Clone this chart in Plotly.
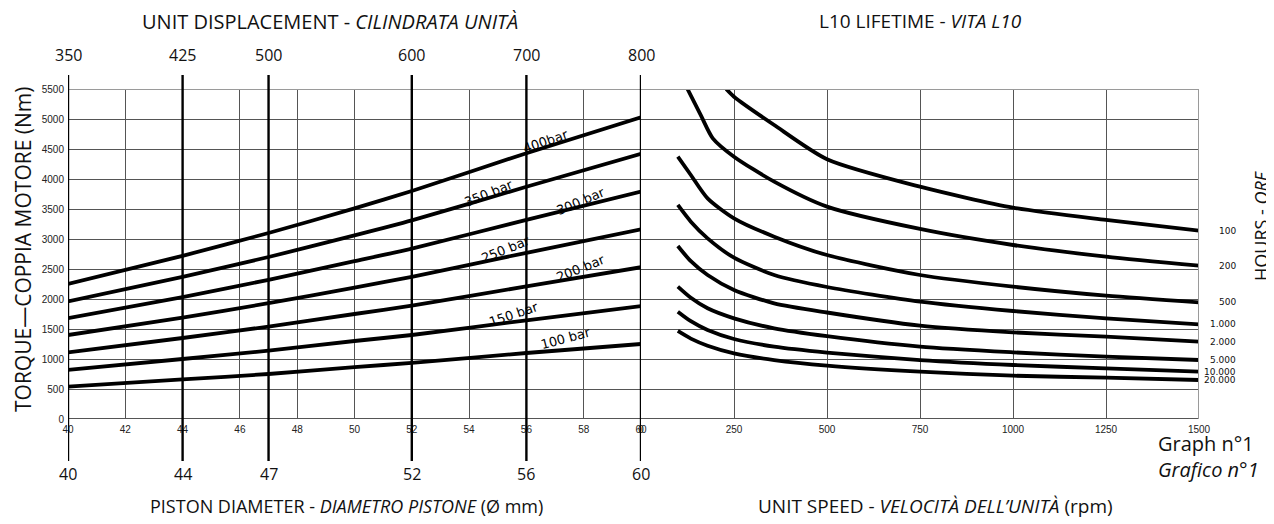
import plotly.graph_objects as go

# ---------------- DATA ----------------
# Left panel: torque (Nm) vs piston diameter (mm) for pressures
diameter = [40, 44, 47, 50, 52, 56, 60]
t_400 = [2250, 2720, 3100, 3510, 3800, 4430, 5030]
t_350 = [1960, 2370, 2700, 3060, 3310, 3870, 4420]
t_300 = [1680, 2030, 2320, 2630, 2840, 3320, 3790]
t_250 = [1400, 1690, 1930, 2190, 2370, 2770, 3160]
t_200 = [1110, 1350, 1540, 1750, 1890, 2210, 2530]
t_150 = [820, 1000, 1140, 1300, 1400, 1645, 1880]
t_100 = [540, 660, 750, 865, 935, 1100, 1250]
pressure_labels = ["400bar", "350 bar", "300 bar", "250 bar", "200 bar", "150 bar", "100 bar"]

# Major piston diameters and corresponding unit displacement
major_diam = [40, 44, 47, 52, 56, 60]
displacement = [350, 425, 500, 600, 700, 800]

# Right panel: L10 lifetime curves, torque (Nm) vs speed (rpm)
rpm_100h = [229, 250, 358, 500, 750, 1000, 1250, 1500]
t_100h = [5500, 5372, 4900, 4330, 3872, 3522, 3317, 3139]
rpm_200h = [125, 161, 193, 250, 358, 500, 750, 1000, 1250, 1500]
t_200h = [5500, 5060, 4678, 4372, 3956, 3539, 3167, 2900, 2706, 2556]
rpm_low = [99, 134, 179, 250, 358, 500, 750, 1000, 1250, 1500]
t_500h = [4372, 4067, 3678, 3345, 3039, 2733, 2400, 2206, 2056, 1945]
t_1000h = [3567, 3289, 3011, 2689, 2400, 2200, 1956, 1800, 1678, 1578]
t_2000h = [2883, 2630, 2400, 2150, 1928, 1775, 1556, 1444, 1372, 1289]
t_5000h = [2206, 2020, 1845, 1678, 1511, 1380, 1206, 1111, 1039, 983]
t_10000h = [1789, 1630, 1483, 1333, 1206, 1108, 983, 900, 844, 789]
t_20000h = [1467, 1340, 1222, 1094, 983, 890, 789, 722, 689, 650]
hour_labels = ["100", "200", "500", "1.000", "2.000", "5.000", "10.000", "20.000"]

# ---------------- LAYOUT CONSTANTS ----------------
OFF = 8  # page body margin
W, H = 1274 - OFF, 524 - OFF
ML, MT = 68 - OFF, 89 - OFF
MR = W - (1199 - OFF)
MB = H - (419 - OFF)
PW = W - ML - MR
PH = H - MT - MB
split = (641 - 68) / PW


def px(xp):
    """reference page pixel x -> paper x"""
    return (xp - OFF - ML) / PW


def py(yp):
    """reference page pixel y -> paper y"""
    return (H - MB - (yp - OFF)) / PH


fig = go.Figure()
LW = 3.8

left_series = [t_400, t_350, t_300, t_250, t_200, t_150, t_100]
for name, ys in zip(pressure_labels, left_series):
    fig.add_trace(go.Scatter(x=diameter, y=ys, mode="lines", name=name,
                             line=dict(color="black", width=LW, shape="spline", smoothing=0.6),
                             xaxis="x", yaxis="y", showlegend=False, hoverinfo="skip"))

right_series = [(rpm_100h, t_100h), (rpm_200h, t_200h), (rpm_low, t_500h), (rpm_low, t_1000h),
                (rpm_low, t_2000h), (rpm_low, t_5000h), (rpm_low, t_10000h), (rpm_low, t_20000h)]
for name, (xs, ys) in zip(hour_labels, right_series):
    fig.add_trace(go.Scatter(x=xs, y=ys, mode="lines", name=name,
                             line=dict(color="black", width=LW, shape="spline", smoothing=0.7),
                             xaxis="x2", yaxis="y", showlegend=False, hoverinfo="skip"))

grid = "#555555"
tickfont = dict(family="Liberation Sans, Arial", size=10, color="#222")

fig.update_layout(
    width=W, height=H,
    margin=dict(l=ML, r=MR, t=MT, b=MB, pad=0),
    paper_bgcolor="white", plot_bgcolor="white",
    xaxis=dict(domain=[0, split], range=[40, 60], tick0=40, dtick=2, showgrid=True,
               gridcolor=grid, gridwidth=1, zeroline=False, showline=False, ticks="",
               tickfont=tickfont, anchor="y", fixedrange=True, ticklabelstandoff=3),
    xaxis2=dict(domain=[split, 1], range=[0, 1500], tick0=0, dtick=250, showgrid=True,
                gridcolor=grid, gridwidth=1, zeroline=False, showline=False, ticks="",
                tickfont=tickfont, anchor="y", fixedrange=True, ticklabelstandoff=3),
    yaxis=dict(range=[0, 5500], tick0=0, dtick=500, showgrid=True, gridcolor=grid,
               gridwidth=1, zeroline=False, showline=False, ticks="", tickfont=tickfont,
               anchor="x", fixedrange=True, ticklabelstandoff=3),
)

shapes = []
shapes.append(dict(type="line", xref="paper", yref="y", x0=0, x1=1, y0=5500, y1=5500,
                   line=dict(color="#9a9a9a", width=2)))
shapes.append(dict(type="line", xref="paper", yref="y", x0=0, x1=1, y0=0, y1=0,
                   line=dict(color="#555", width=2)))
shapes.append(dict(type="line", xref="x2", yref="y", x0=1500, x1=1500, y0=0, y1=5500,
                   line=dict(color="#9a9a9a", width=2)))
for d in major_diam:
    shapes.append(dict(type="line", xref="x", yref="paper", x0=d, x1=d,
                       y0=py(461), y1=py(75), line=dict(color="black", width=2.4)))
fig.update_layout(shapes=shapes)

ann = []
big = dict(family="Open Sans", size=16, color="#111")
for d, v in zip(major_diam, displacement):
    ann.append(dict(x=d, y=py(55), xref="x", yref="paper", text=str(v), showarrow=False,
                    font=big, xanchor="center", yanchor="middle"))
    ann.append(dict(x=d, y=py(474), xref="x", yref="paper", text=str(d), showarrow=False,
                    font=big, xanchor="center", yanchor="middle"))

label_pos = [(545, 141, -19), (488, 193, -22), (580, 201, -23), (505, 249, -22),
             (580, 268, -22), (513, 314, -19), (565, 338, -15)]
for s, (xp, yp, ang) in zip(pressure_labels, label_pos):
    ann.append(dict(x=px(xp), y=py(yp), xref="paper", yref="paper", text=s, showarrow=False,
                    textangle=ang, font=dict(family="DejaVu Sans", size=13, color="black"),
                    xanchor="center", yanchor="middle"))

for s, (xs, ys) in zip(hour_labels, right_series):
    ann.append(dict(x=px(1238), y=ys[-1], xref="paper", yref="y", text=s, showarrow=False,
                    font=dict(family="DejaVu Sans", size=9, color="#111"),
                    xanchor="right", yanchor="middle"))


def tf(size):
    return dict(family="Open Sans", size=size, color="#111")


def txt(x, y, s, size=19, **kw):
    d = dict(x=px(x), y=py(y), xref="paper", yref="paper", text=s, showarrow=False,
             font=tf(size), xanchor="center", yanchor="middle")
    d.update(kw)
    return d


ann += [
    txt(330, 21, "UNIT DISPLACEMENT - <i>CILINDRATA UNITÀ</i>", size=20),
    txt(920, 21, "L10 LIFETIME - <i>VITA L10</i>", size=19),
    txt(346, 506, "PISTON DIAMETER - <i>DIAMETRO PISTONE</i> (Ø mm)", size=18),
    txt(935, 506, "UNIT SPEED - <i>VELOCITÀ DELL’UNITÀ</i> (rpm)", size=19),
    txt(1156, 443, "Graph n°1", size=20, xanchor="left"),
    txt(1156, 469, "<i>Grafico n°1</i>", size=20, xanchor="left"),
    txt(23, 250, "TORQUE—COPPIA MOTORE (Nm)", size=21, textangle=-90),
    txt(1261, 226, "HOURS - <i>ORE</i>", size=18, textangle=-90),
]
fig.update_layout(annotations=ann)

fig.write_html("out.html")
